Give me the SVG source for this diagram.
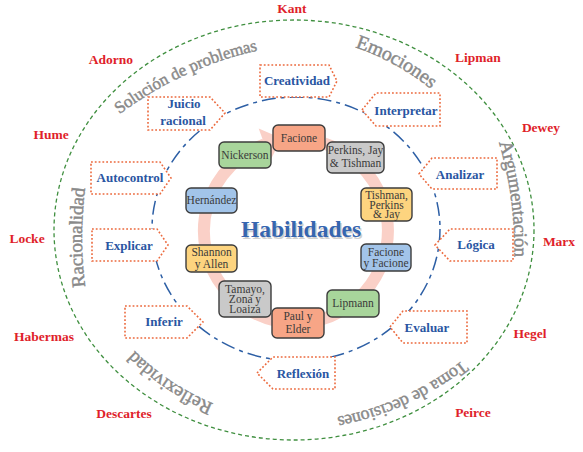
<svg xmlns="http://www.w3.org/2000/svg" width="583" height="452" viewBox="0 0 583 452">
<defs>
<style>
.name{font-family:"Liberation Serif",serif;font-weight:bold;font-size:13.5px;fill:#e01f2b;text-anchor:middle}
.lbl{font-family:"Liberation Serif",serif;font-weight:bold;font-size:13px;fill:#2a56a2;text-anchor:middle}
.nt{font-family:"Liberation Serif",serif;font-size:11.5px;fill:#3a3a3a;text-anchor:middle}
.box{fill:#fff;stroke:#ec6a3e;stroke-width:1.6;stroke-dasharray:1.8 2}
.node{stroke:#3c3c3c;stroke-width:1.4}
.arc{font-family:"Liberation Serif",serif;fill:#8a8a8a;stroke:#8a8a8a;stroke-width:0.45;dominant-baseline:central}
.salmon{fill:#f7a586}.green{fill:#a8d59b}.gray{fill:#c9c9c9}.blue{fill:#a2c4e9}.yellow{fill:#fdd47f}
</style>
<path id="pSol" d="M105,118 A365,365 0 0 1 270,42"/>
<path id="pEmo" d="M345,37 A250,250 0 0 1 445,92"/>
<path id="pArg" d="M503,132 A380,380 0 0 1 521,266"/>
<path id="pRac" d="M80,300 A400,400 0 0 1 80,175"/>
<path id="pRef" d="M218,413 A250,250 0 0 1 124,350"/>
<path id="pTom" d="M470,362 A300,300 0 0 1 333,424"/>
</defs>
<rect width="583" height="452" fill="#fff"/>

<g id="connectors">
<ellipse cx="294" cy="230" rx="240" ry="210" fill="none" stroke="#3f8f3f" stroke-width="1.3" stroke-dasharray="4 3"/>
<ellipse cx="296" cy="229" rx="144" ry="132" fill="none" stroke="#2d5fa5" stroke-width="1.5" stroke-dasharray="14 5 4 5"/>
<g id="cycle" fill="#fad0c7">
<path d="M324.4,143.5 A92,92 0 1 1 264.5,144.5" fill="none" stroke="#fad0c7" stroke-width="12"/>
<polygon points="258.7,128.5 270.3,160.5 281.4,138.3"/>
</g>
</g>

<g id="names">
<text class="name" x="292" y="13">Kant</text>
<text class="name" x="111" y="64">Adorno</text>
<text class="name" x="478" y="62">Lipman</text>
<text class="name" x="51" y="139">Hume</text>
<text class="name" x="541" y="132">Dewey</text>
<text class="name" x="27" y="243">Locke</text>
<text class="name" x="559" y="246">Marx</text>
<text class="name" x="44" y="341">Habermas</text>
<text class="name" x="530" y="338">Hegel</text>
<text class="name" x="124" y="418">Descartes</text>
<text class="name" x="473" y="417">Peirce</text>
</g>

<g id="dimensions">
<text class="arc" font-size="17"><textPath href="#pSol" startOffset="50%" text-anchor="middle">Solución de problemas</textPath></text>
<text class="arc" font-size="20"><textPath href="#pEmo" startOffset="50%" text-anchor="middle">Emociones</textPath></text>
<text class="arc" font-size="19"><textPath href="#pArg" startOffset="50%" text-anchor="middle">Argumentación</textPath></text>
<text class="arc" font-size="19"><textPath href="#pRac" startOffset="50%" text-anchor="middle">Racionalidad</textPath></text>
<text class="arc" font-size="19"><textPath href="#pRef" startOffset="50%" text-anchor="middle">Reflexividad</textPath></text>
<text class="arc" font-size="18"><textPath href="#pTom" startOffset="50%" text-anchor="middle">Toma de decisiones</textPath></text>
</g>

<g id="skill-creatividad"><path class="box" d="M260,65 H329 L337,81 L329,97 H260 Z"/><text class="lbl" x="297" y="85">Creatividad</text></g>
<g id="skill-juicio"><path class="box" d="M148,97 H210 L225,113 L210,130 H148 Z"/><text class="lbl" x="184" y="108">Juicio</text><text class="lbl" x="183" y="125">racional</text></g>
<g id="skill-interpretar"><path class="box" d="M362,110 L376,93 H440 V126 H376 Z"/><text class="lbl" x="406" y="115">Interpretar</text></g>
<g id="skill-autocontrol"><path class="box" d="M91,162 H160 L171,178 L160,194 H91 Z"/><text class="lbl" x="130" y="182">Autocontrol</text></g>
<g id="skill-analizar"><path class="box" d="M419,174 L432,158 H497 V189 H432 Z"/><text class="lbl" x="460" y="179">Analizar</text></g>
<g id="skill-explicar"><path class="box" d="M92,229 H157 L168,245 L157,261 H92 Z"/><text class="lbl" x="129" y="250">Explicar</text></g>
<g id="skill-logica"><path class="box" d="M435,245 L450,229 H513 V261 H450 Z"/><text class="lbl" x="476" y="249">Lógica</text></g>
<g id="skill-inferir"><path class="box" d="M125,306 H187 L203,322 L187,338 H125 Z"/><text class="lbl" x="164" y="326">Inferir</text></g>
<g id="skill-evaluar"><path class="box" d="M390,327 L403,311 H467 V343 H403 Z"/><text class="lbl" x="427" y="332">Evaluar</text></g>
<g id="skill-reflexion"><path class="box" d="M257,373 L273,357 H335 V389 H273 Z"/><text class="lbl" x="303" y="378">Reflexión</text></g>

<g id="center">
<text x="302.5" y="238.5" font-family="Liberation Serif, serif" font-weight="bold" font-size="23.5" fill="#cfcfcf" text-anchor="middle">Habilidades</text>
<text x="301" y="237" font-family="Liberation Serif, serif" font-weight="bold" font-size="23.5" fill="#3666b0" text-anchor="middle">Habilidades</text>
</g>

<g id="n-facione"><rect class="node salmon" x="273" y="125" width="52" height="26" rx="5"/><text class="nt" x="299" y="142">Facione</text></g>
<g id="n-perkins"><rect class="node gray" x="327" y="142" width="57" height="31" rx="5"/><text class="nt" x="355.5" y="154">Perkins, Jay</text><text class="nt" x="355.5" y="167">&amp; Tishman</text></g>
<g id="n-nickerson"><rect class="node green" x="219" y="142" width="52" height="26" rx="5"/><text class="nt" x="245" y="159">Nickerson</text></g>
<g id="n-hernandez"><rect class="node blue" x="186" y="188" width="51" height="25" rx="5"/><text class="nt" x="211.5" y="204">Hernández</text></g>
<g id="n-tishman"><rect class="node yellow" x="361" y="188" width="51" height="33" rx="5"/><text class="nt" x="386.5" y="199">Tishman,</text><text class="nt" x="386.5" y="208.5">Perkins</text><text class="nt" x="386.5" y="218">&amp; Jay</text></g>
<g id="n-shannon"><rect class="node yellow" x="186" y="245" width="51" height="27" rx="5"/><text class="nt" x="211.5" y="256">Shannon</text><text class="nt" x="211.5" y="268">y Allen</text></g>
<g id="n-facione2"><rect class="node blue" x="361" y="244" width="50" height="27" rx="5"/><text class="nt" x="386" y="256">Facione</text><text class="nt" x="386" y="267">y Facione</text></g>
<g id="n-tamayo"><rect class="node gray" x="219" y="281" width="52" height="36" rx="5"/><text class="nt" x="245" y="293">Tamayo,</text><text class="nt" x="245" y="303">Zona y</text><text class="nt" x="245" y="313">Loaiza</text></g>
<g id="n-lipmann"><rect class="node green" x="327" y="290" width="52" height="27" rx="5"/><text class="nt" x="353" y="307">Lipmann</text></g>
<g id="n-paul"><rect class="node salmon" x="272" y="308" width="52" height="30" rx="5"/><text class="nt" x="298" y="320">Paul y</text><text class="nt" x="298" y="333">Elder</text></g>
</svg>
